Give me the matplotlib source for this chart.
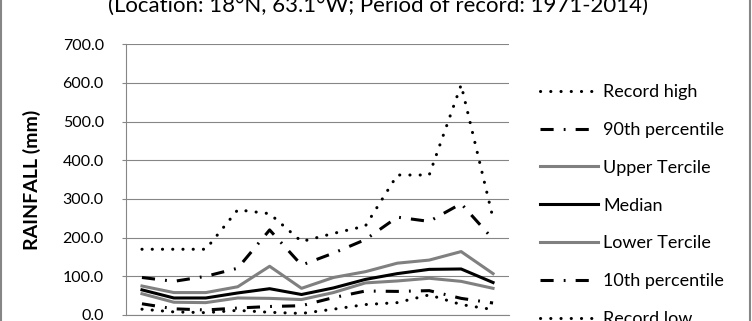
import matplotlib
matplotlib.use('Agg')
import matplotlib.pyplot as plt
from matplotlib.lines import Line2D
import numpy as np

plt.rcParams['font.family'] = ['Lato', 'DejaVu Sans']

# ------- dados -------
meses = ['Jan', 'Feb', 'Mar', 'Apr', 'May', 'Jun', 'Jul', 'Aug', 'Sep', 'Oct', 'Nov', 'Dec']
record_high = [170, 170, 170, 272, 262, 190, 211, 230, 362, 362, 595, 250]
p90 = [97, 87, 100, 121, 220, 129, 160, 195, 253, 242, 288, 196]
upper_tercile = [75, 58, 58, 73, 126, 69, 97, 112, 134, 142, 164, 107]
median = [65, 44, 44, 57, 68, 53, 70, 92, 107, 118, 119, 84]
lower_tercile = [55, 33, 32, 44, 43, 40, 58, 83, 88, 95, 87, 69]
p10 = [29, 16, 13, 18, 22, 24, 45, 62, 61, 63, 43, 31]
record_low = [15, 8, 6, 12, 7, 4, 15, 27, 32, 52, 27, 14]

yticks = [0, 100, 200, 300, 400, 500, 600, 700]

W, H = 752, 321
fig = plt.figure(figsize=(W / 100, H / 100), dpi=100)
ax = fig.add_axes([126 / W, (H - 315) / H, 383 / W, (315 - 44.3) / H])

x = np.arange(len(meses))
lw = 2.2
dot = (0, (0.05, 3.3))
dashdot = (0, (4.3, 3.3, 0.6, 3.3))
cinza = '#808080'

ax.plot(x, record_high, color='black', lw=lw, linestyle=dot, dash_capstyle='round', label='Record high')
ax.plot(x, p90, color='black', lw=lw, linestyle=dashdot, label='90th percentile')
ax.plot(x, upper_tercile, color=cinza, lw=lw, label='Upper Tercile')
ax.plot(x, median, color='black', lw=lw, label='Median')
ax.plot(x, lower_tercile, color=cinza, lw=lw, label='Lower Tercile')
ax.plot(x, p10, color='black', lw=lw, linestyle=dashdot, label='10th percentile')
ax.plot(x, record_low, color='black', lw=lw, linestyle=dot, dash_capstyle='round', label='Record low')

ax.set_xlim(-0.5, len(meses) - 0.5)
ax.set_ylim(0, 700)
ax.set_yticks(yticks)
ax.set_yticklabels([f'{v:.1f}' for v in yticks], fontsize=11.5)
ax.set_xticks([])
ax.tick_params(axis='y', length=3, color='#868686', pad=13)
ax.grid(True, axis='y', color='#868686', lw=0.8)
ax.set_axisbelow(True)
for lado in ['top', 'right']:
    ax.spines[lado].set_visible(False)
for lado in ['left', 'bottom']:
    ax.spines[lado].set_color('#868686')
    ax.spines[lado].set_linewidth(0.8)

ax.set_ylabel('RAINFALL (mm)', fontsize=14, fontweight='bold')
ax.yaxis.set_label_coords(-0.222, 0.5)

fig.text(0.503, 1 - 12 / H, '(Location: 18°N, 63.1°W; Period of record: 1971-2014)',
         ha='center', va='baseline', fontsize=16)

fig.legend(loc='upper left', bbox_to_anchor=(540 / W, 1 - 84 / H), frameon=False,
           fontsize=13, handlelength=3.2, handletextpad=0.3, labelspacing=1.21,
           borderpad=0, borderaxespad=0)

# moldura do gráfico (só as laterais aparecem)
fig.add_artist(Line2D([1.5 / W, 1.5 / W], [0, 1], color='#868686', lw=1.5))
fig.add_artist(Line2D([749.5 / W, 749.5 / W], [0, 1], color='#868686', lw=1.5))

fig.savefig('out.png', dpi=100)
